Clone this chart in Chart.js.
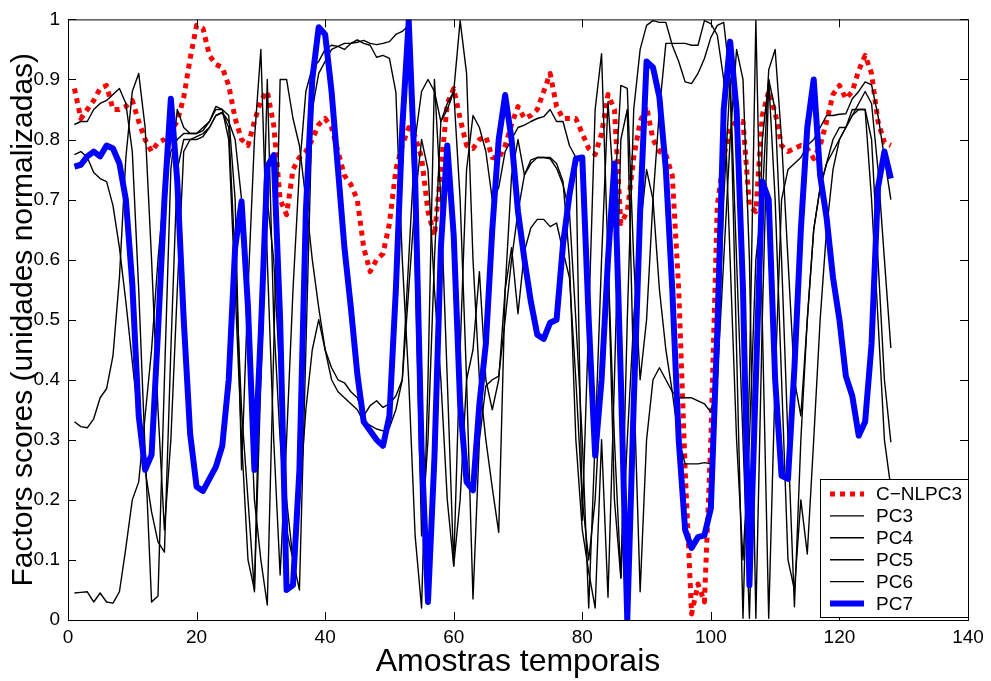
<!DOCTYPE html>
<html>
<head>
<meta charset="utf-8">
<script src="https://cdn.jsdelivr.net/npm/chart.js@4.4.1/dist/chart.umd.min.js"></script>
<style>
  html, body { margin: 0; padding: 0; background: #fff; }
  #wrap { width: 991px; height: 681px; }
</style>
</head>
<body>
<div id="wrap"><canvas id="myChart" width="991" height="681"></canvas></div>
<script>
// sample index (Amostras temporais)
const samples = Array.from({ length: 128 }, (_, i) => i + 1);

const xTicks = [0, 20, 40, 60, 80, 100, 120, 140];
const yTicks = [0, 0.1, 0.2, 0.3, 0.4, 0.5, 0.6, 0.7, 0.8, 0.9, 1];

const cnlpc3 = [
  .885,.835,.85,.865,.885,.89,.85,.85,.855,.865,
  .83,.80,.78,.795,.80,.815,.83,.87,.935,.99,
  .985,.94,.925,.92,.89,.835,.80,.79,.83,.865,
  .88,.824,.70,.675,.75,.77,.78,.80,.825,.835,
  .82,.78,.74,.725,.70,.62,.58,.60,.61,.66,
  .75,.79,.82,.805,.77,.68,.64,.75,.86,.885,
  .835,.79,.785,.80,.805,.77,.768,.79,.825,.855,
  .835,.84,.85,.88,.91,.855,.835,.835,.835,.81,
  .785,.775,.81,.875,.85,.66,.68,.77,.83,.855,
  .80,.78,.775,.74,.55,.25,.01,.06,.03,.30,
  .69,.77,.82,.83,.83,.69,.68,.84,.88,.845,
  .79,.78,.785,.79,.785,.768,.79,.83,.875,.89,
  .868,.88,.915,.94,.91,.83,.795,.79
];

const pc3 = [
  .825,.83,.83,.85,.86,.865,.875,.885,.86,.78,
  .55,.28,.03,.04,.40,.75,.85,.82,.81,.81,
  .815,.83,.855,.85,.84,.70,.25,.55,.80,.95,
  .60,.30,.075,.30,.55,.75,.88,.92,.93,.95,
  .957,.955,.95,.96,.966,.96,.957,.937,.94,.935,
  .879,.60,.40,.14,.02,.40,.90,.70,.40,.09,
  .45,.75,.84,.82,.78,.70,.72,.78,.80,.82,
  .824,.83,.835,.838,.85,.83,.83,.79,.77,.166,
  .50,.85,.943,.60,.30,.07,.50,.85,.95,.99,
  .998,.995,.995,.957,.93,.896,.893,.91,.935,.97,
  .99,.995,.90,.45,.003,.40,.998,.50,.003,.40,
  .70,.75,.76,.77,.79,.80,.82,.84,.84,.842,
  .843,.868,.88,.896,.891,.84,.77,.70
];

const pc4 = [
  .775,.78,.77,.745,.735,.73,.69,.62,.53,.43,
  .33,.25,.18,.13,.113,.45,.75,.80,.80,.805,
  .81,.82,.84,.845,.82,.60,.35,.20,.047,.50,
  .90,.50,.30,.15,.10,.05,.45,.85,.91,.93,
  .95,.955,.96,.96,.962,.965,.96,.958,.96,.963,
  .975,.98,.99,.60,.14,.30,.60,.83,.86,.88,
  .998,.91,.60,.40,.30,.22,.146,.55,.74,.80,
  .741,.766,.77,.77,.768,.752,.725,.68,.50,.30,
  .02,.30,.60,.863,.70,.89,.885,.60,.40,.50,
  .70,.85,.96,.96,.96,.96,.957,.957,.998,.993,
  .974,.90,.60,.30,.10,.30,.60,.70,.916,.95,
  .80,.60,.40,.34,.50,.65,.72,.76,.78,.80,
  .82,.84,.86,.88,.86,.75,.60,.453
];

const pc5 = [
  .33,.322,.32,.335,.37,.385,.44,.57,.77,.88,
  .91,.82,.60,.35,.15,.30,.55,.78,.80,.80,
  .805,.82,.84,.845,.83,.80,.70,.45,.20,.10,
  .025,.45,.90,.90,.835,.79,.70,.60,.52,.45,
  .42,.40,.395,.38,.37,.34,.357,.365,.354,.36,
  .373,.40,.60,.80,.88,.90,.88,.83,.85,.88,
  .70,.40,.035,.30,.39,.40,.406,.50,.60,.68,
  .741,.76,.77,.77,.77,.76,.73,.60,.30,.15,
  .08,.02,.30,.038,.40,.80,.85,.40,.047,.30,
  .40,.42,.40,.38,.37,.37,.37,.365,.36,.346,
  .40,.60,.80,.95,.90,.60,.003,.50,.90,.85,
  .60,.30,.022,.30,.50,.65,.72,.76,.80,.82,
  .82,.85,.85,.85,.80,.60,.40,.296
];

const pc6 = [
  .045,.046,.047,.03,.045,.03,.028,.047,.12,.20,
  .23,.34,.45,.60,.72,.78,.80,.81,.81,.81,
  .82,.83,.85,.85,.80,.55,.30,.10,.05,.40,
  .70,.60,.40,.20,.10,.20,.35,.45,.50,.45,
  .40,.38,.37,.36,.35,.33,.324,.318,.315,.32,
  .35,.40,.55,.70,.80,.75,.55,.40,.20,.09,
  .20,.40,.45,.58,.40,.35,.40,.55,.62,.51,
  .614,.653,.667,.667,.655,.661,.614,.57,.40,.20,
  .10,.20,.40,.60,.20,.07,.30,.50,.65,.75,
  .70,.55,.45,.38,.30,.26,.26,.26,.262,.26,
  .40,.70,.90,.60,.30,.003,.40,.80,.90,.70,
  .40,.10,.05,.20,.11,.30,.50,.65,.75,.80,
  .82,.84,.85,.85,.70,.50,.30,.22
];

const pc7 = [
  .755,.758,.772,.78,.772,.79,.785,.76,.70,.56,
  .34,.25,.275,.48,.70,.868,.73,.50,.31,.222,
  .215,.235,.255,.29,.40,.62,.697,.52,.25,.48,
  .755,.774,.50,.05,.058,.25,.68,.90,.987,.975,
  .88,.75,.62,.52,.41,.33,.315,.30,.29,.34,
  .55,.82,.998,.735,.285,.03,.27,.62,.79,.64,
  .36,.23,.216,.36,.46,.65,.80,.874,.80,.68,
  .60,.53,.475,.468,.495,.50,.625,.708,.768,.77,
  .50,.274,.40,.60,.76,.40,.0,.36,.68,.93,
  .92,.87,.75,.55,.30,.15,.12,.138,.141,.186,
  .48,.85,.963,.85,.55,.058,.40,.73,.70,.40,
  .24,.235,.42,.65,.82,.90,.74,.67,.57,.50,
  .406,.373,.307,.33,.46,.72,.78,.735
];

const seriesNames = ['C\u2212NLPC3', 'PC3', 'PC4', 'PC5', 'PC6', 'PC7'];
const seriesValues = [cnlpc3, pc3, pc4, pc5, pc6, pc7];
const seriesColors = ['#ff0000', '#000000', '#000000', '#000000', '#000000', '#0000ff'];
const seriesWidths = [5, 1.4, 1.4, 1.4, 1.4, 6];
const seriesDash = [[5, 5], [], [], [], [], []];
const seriesOrder = [6, 5, 4, 3, 2, 0];

const datasets = seriesNames.map((name, k) => ({
  label: name,
  data: seriesValues[k].map((v, i) => ({ x: samples[i], y: v })),
  borderColor: seriesColors[k],
  borderWidth: seriesWidths[k],
  borderDash: seriesDash[k],
  borderCapStyle: 'butt',
  borderJoinStyle: 'round',
  pointRadius: 0,
  tension: 0,
  fill: false,
  order: seriesOrder[k]
}));

const frame = {
  id: 'frame',
  afterDraw(chart) {
    const { ctx, chartArea: a, scales: { x, y } } = chart;
    ctx.save();
    ctx.strokeStyle = '#000';
    ctx.lineWidth = 1;
    ctx.strokeRect(a.left + 0.5, a.top + 0.5, a.right - a.left, a.bottom - a.top);
    ctx.beginPath();
    xTicks.forEach(v => {
      const px = Math.round(x.getPixelForValue(v)) + 0.5;
      ctx.moveTo(px, a.bottom); ctx.lineTo(px, a.bottom - 8);
      ctx.moveTo(px, a.top); ctx.lineTo(px, a.top + 8);
    });
    yTicks.forEach(v => {
      const py = Math.round(y.getPixelForValue(v)) + 0.5;
      ctx.moveTo(a.left, py); ctx.lineTo(a.left + 8, py);
      ctx.moveTo(a.right, py); ctx.lineTo(a.right - 8, py);
    });
    ctx.stroke();

    // legend box (bottom right, inside the axes)
    const bx = 820, by = 479, bw = 148, bh = 138;
    ctx.fillStyle = '#fff';
    ctx.fillRect(bx, by, bw, bh);
    ctx.strokeRect(bx + 0.5, by + 0.5, bw, bh);
    ctx.font = '19px "Liberation Sans", Arial, sans-serif';
    ctx.textBaseline = 'middle';
    ctx.textAlign = 'left';
    seriesNames.forEach((name, k) => {
      const cy = by + 15 + k * 21.9;
      ctx.beginPath();
      ctx.strokeStyle = seriesColors[k];
      ctx.lineWidth = seriesWidths[k];
      ctx.setLineDash(seriesDash[k]);
      ctx.lineCap = 'butt';
      ctx.moveTo(830, cy); ctx.lineTo(864, cy);
      ctx.stroke();
      ctx.setLineDash([]);
      ctx.fillStyle = '#000';
      ctx.fillText(name, 876, cy + 1);
    });
    ctx.restore();
  }
};

const ctx = document.getElementById('myChart');
new Chart(ctx, {
  type: 'line',
  data: { datasets: datasets },
  options: {
    responsive: false,
    animation: false,
    devicePixelRatio: 1,
    layout: { padding: { top: 17, right: 23, left: 0, bottom: 0 } },
    plugins: { legend: { display: false }, tooltip: { enabled: false } },
    scales: {
      x: {
        type: 'linear',
        min: 0, max: 140,
        afterFit: s => { s.height = 61; },
        afterBuildTicks: s => { s.ticks = xTicks.map(v => ({ value: v })); },
        grid: { display: false, drawTicks: false },
        border: { display: false },
        ticks: { color: '#000', padding: 6, font: { size: 19, family: '"Liberation Sans", Arial, sans-serif' }, maxRotation: 0 },
        title: { display: true, text: 'Amostras temporais', color: '#000', padding: { top: 0, bottom: 0 },
                 font: { size: 32, family: '"Liberation Sans", Arial, sans-serif' } }
      },
      y: {
        type: 'linear',
        min: 0, max: 1,
        afterFit: s => { s.width = 68; },
        afterBuildTicks: s => { s.ticks = yTicks.map(v => ({ value: v })); },
        grid: { display: false, drawTicks: false },
        border: { display: false },
        ticks: { color: '#000', padding: 8, font: { size: 19, family: '"Liberation Sans", Arial, sans-serif' },
                 callback: v => String(Number(v.toFixed(1))) },
        title: { display: true, text: 'Factors scores (unidades normalizadas)', color: '#000', padding: { top: 6, bottom: 0 },
                 font: { size: 30, family: '"Liberation Sans", Arial, sans-serif' } }
      }
    }
  },
  plugins: [frame]
});
</script>
</body>
</html>
